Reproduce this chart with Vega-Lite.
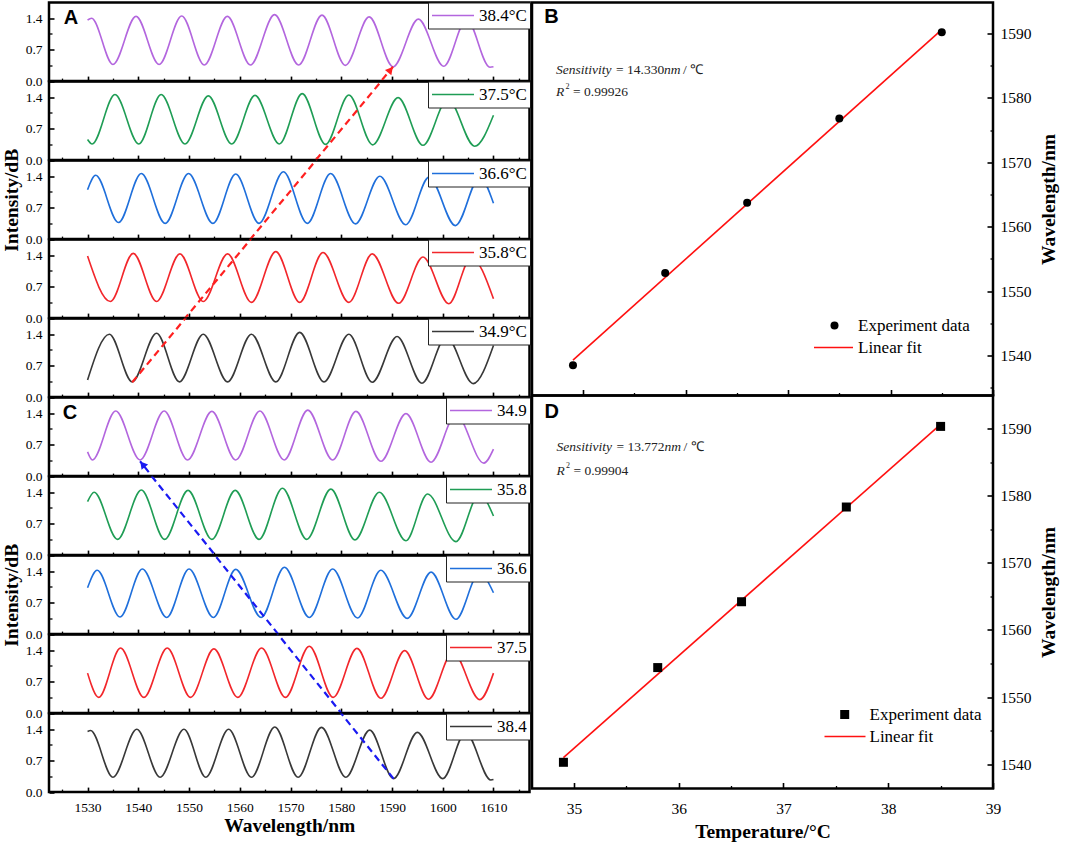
{
"$schema": "https://vega.github.io/schema/vega-lite/v6.json",
"padding": {"left": 0, "top": 0.5, "right": 4, "bottom": 4},
"background": "white",
"config": {
  "view": {"stroke": "black", "strokeWidth": 2.5},
  "axis": {"domain": false, "grid": false, "tickColor": "black", "labelColor": "black", "titleColor": "black", "labelFont": "Liberation Serif", "titleFont": "Liberation Serif", "titleFontWeight": "bold", "labelFlush": false, "labelOverlap": false},
  "legend": {"labelFont": "Liberation Serif", "labelColor": "black", "labelFontSize": 17, "labelLimit": 0},
  "text": {"font": "Liberation Serif"}
},
"datasets": {
  "a1": [{"wl":1530,"v":1.36},{"wl":1530.8,"v":1.40},{"wl":1535.0,"v":0.37},{"wl":1539.55,"v":1.44},{"wl":1544.1,"v":0.37},{"wl":1548.55,"v":1.45},{"wl":1553.0,"v":0.36},{"wl":1557.55,"v":1.44},{"wl":1562.1,"v":0.36},{"wl":1566.85,"v":1.48},{"wl":1571.6,"v":0.36},{"wl":1576.2,"v":1.47},{"wl":1580.8,"v":0.35},{"wl":1585.5,"v":1.43},{"wl":1590.2,"v":0.32},{"wl":1595.2,"v":1.38},{"wl":1600.2,"v":0.33},{"wl":1604.7,"v":1.38},{"wl":1609.3,"v":0.31},{"wl":1610,"v":0.32}],
  "a2": [{"wl":1530,"v":0.46},{"wl":1530.9,"v":0.36},{"wl":1535.4,"v":1.46},{"wl":1540.1,"v":0.36},{"wl":1544.5,"v":1.46},{"wl":1549.2,"v":0.36},{"wl":1553.8,"v":1.43},{"wl":1558.4,"v":0.36},{"wl":1563.0,"v":1.44},{"wl":1567.8,"v":0.36},{"wl":1572.3,"v":1.48},{"wl":1576.9,"v":0.35},{"wl":1581.5,"v":1.45},{"wl":1586.2,"v":0.34},{"wl":1591.2,"v":1.39},{"wl":1596.1,"v":0.33},{"wl":1601.0,"v":1.36},{"wl":1606.3,"v":0.31},{"wl":1610,"v":1.0}],
  "a3": [{"wl":1530,"v":1.10},{"wl":1531.6,"v":1.42},{"wl":1536.1,"v":0.37},{"wl":1540.6,"v":1.46},{"wl":1545.3,"v":0.35},{"wl":1549.9,"v":1.46},{"wl":1554.7,"v":0.35},{"wl":1559.2,"v":1.45},{"wl":1563.8,"v":0.35},{"wl":1568.6,"v":1.50},{"wl":1573.3,"v":0.35},{"wl":1577.9,"v":1.46},{"wl":1582.8,"v":0.34},{"wl":1587.6,"v":1.40},{"wl":1592.7,"v":0.32},{"wl":1597.3,"v":1.38},{"wl":1602.5,"v":0.30},{"wl":1607.3,"v":1.38},{"wl":1610,"v":0.8}],
  "a4": [{"wl":1530,"v":1.38},{"wl":1534.5,"v":0.37},{"wl":1539.0,"v":1.44},{"wl":1543.6,"v":0.37},{"wl":1548.2,"v":1.43},{"wl":1552.8,"v":0.37},{"wl":1557.6,"v":1.43},{"wl":1562.3,"v":0.35},{"wl":1567.1,"v":1.48},{"wl":1571.8,"v":0.35},{"wl":1576.4,"v":1.46},{"wl":1581.5,"v":0.35},{"wl":1586.1,"v":1.43},{"wl":1591.3,"v":0.33},{"wl":1596.1,"v":1.36},{"wl":1601.2,"v":0.32},{"wl":1605.6,"v":1.35},{"wl":1610,"v":0.43}],
  "a5": [{"wl":1530,"v":0.38},{"wl":1534.3,"v":1.40},{"wl":1538.8,"v":0.34},{"wl":1543.6,"v":1.42},{"wl":1548.1,"v":0.34},{"wl":1552.8,"v":1.40},{"wl":1557.6,"v":0.34},{"wl":1562.3,"v":1.40},{"wl":1567.1,"v":0.34},{"wl":1571.8,"v":1.44},{"wl":1576.6,"v":0.34},{"wl":1581.5,"v":1.40},{"wl":1586.1,"v":0.33},{"wl":1591.0,"v":1.35},{"wl":1595.9,"v":0.31},{"wl":1600.7,"v":1.35},{"wl":1606.0,"v":0.30},{"wl":1610,"v":1.15}],
  "c1": [{"wl":1530,"v":0.54},{"wl":1530.95,"v":0.36},{"wl":1535.55,"v":1.45},{"wl":1540.35,"v":0.36},{"wl":1545.1,"v":1.45},{"wl":1549.7,"v":0.36},{"wl":1554.5,"v":1.44},{"wl":1559.2,"v":0.36},{"wl":1563.95,"v":1.45},{"wl":1568.75,"v":0.36},{"wl":1573.4,"v":1.47},{"wl":1578.3,"v":0.36},{"wl":1582.9,"v":1.44},{"wl":1587.8,"v":0.33},{"wl":1592.75,"v":1.39},{"wl":1597.7,"v":0.31},{"wl":1602.6,"v":1.37},{"wl":1608.1,"v":0.29},{"wl":1610,"v":0.6}],
  "c2": [{"wl":1530,"v":1.19},{"wl":1531.3,"v":1.40},{"wl":1535.9,"v":0.35},{"wl":1540.6,"v":1.45},{"wl":1545.2,"v":0.35},{"wl":1549.8,"v":1.44},{"wl":1554.5,"v":0.35},{"wl":1559.1,"v":1.44},{"wl":1563.8,"v":0.35},{"wl":1568.4,"v":1.49},{"wl":1573.2,"v":0.35},{"wl":1577.95,"v":1.47},{"wl":1582.7,"v":0.34},{"wl":1587.5,"v":1.40},{"wl":1592.75,"v":0.32},{"wl":1597.0,"v":1.36},{"wl":1602.6,"v":0.30},{"wl":1607.2,"v":1.36},{"wl":1610,"v":0.87}],
  "c3": [{"wl":1530,"v":1.03},{"wl":1531.9,"v":1.42},{"wl":1536.4,"v":0.38},{"wl":1540.8,"v":1.45},{"wl":1545.6,"v":0.37},{"wl":1550.0,"v":1.45},{"wl":1554.8,"v":0.37},{"wl":1559.2,"v":1.44},{"wl":1564.2,"v":0.37},{"wl":1568.8,"v":1.49},{"wl":1573.7,"v":0.37},{"wl":1578.3,"v":1.45},{"wl":1583.2,"v":0.36},{"wl":1587.8,"v":1.42},{"wl":1593.0,"v":0.35},{"wl":1597.7,"v":1.38},{"wl":1602.6,"v":0.33},{"wl":1607.2,"v":1.36},{"wl":1610,"v":0.92}],
  "c4": [{"wl":1530,"v":0.89},{"wl":1532.2,"v":0.35},{"wl":1536.5,"v":1.45},{"wl":1541.1,"v":0.35},{"wl":1545.7,"v":1.45},{"wl":1550.3,"v":0.35},{"wl":1554.9,"v":1.43},{"wl":1559.6,"v":0.35},{"wl":1564.3,"v":1.45},{"wl":1569.0,"v":0.35},{"wl":1573.7,"v":1.49},{"wl":1578.4,"v":0.35},{"wl":1583.1,"v":1.44},{"wl":1587.8,"v":0.33},{"wl":1592.5,"v":1.39},{"wl":1597.2,"v":0.31},{"wl":1602.0,"v":1.36},{"wl":1607.3,"v":0.30},{"wl":1610,"v":0.89}],
  "c5": [{"wl":1530,"v":1.35},{"wl":1530.6,"v":1.37},{"wl":1535.0,"v":0.33},{"wl":1539.7,"v":1.40},{"wl":1544.3,"v":0.33},{"wl":1549.0,"v":1.40},{"wl":1553.3,"v":0.33},{"wl":1557.8,"v":1.40},{"wl":1562.3,"v":0.33},{"wl":1566.9,"v":1.45},{"wl":1571.5,"v":0.33},{"wl":1576.1,"v":1.44},{"wl":1580.9,"v":0.33},{"wl":1585.6,"v":1.38},{"wl":1590.3,"v":0.30},{"wl":1595.0,"v":1.33},{"wl":1600.0,"v":0.30},{"wl":1604.5,"v":1.33},{"wl":1609.5,"v":0.27},{"wl":1610,"v":0.28}],
  "bpts": [{"t":34.9,"w":1538.5},{"t":35.8,"w":1552.8},{"t":36.6,"w":1563.7},{"t":37.5,"w":1576.8},{"t":38.5,"w":1590.2}],
  "bfit": [{"t":34.9,"w":1539.3},{"t":38.5,"w":1590.6}],
  "dpts": [{"t":34.9,"w":1540.3},{"t":35.8,"w":1554.4},{"t":36.6,"w":1564.2},{"t":37.6,"w":1578.3},{"t":38.5,"w":1590.3}],
  "dfit": [{"t":34.9,"w":1541.0},{"t":38.5,"w":1590.6}]
},
"spacing": -2.5,
"bounds": "full",
"resolve": {"scale": {"color": "independent", "shape": "independent"}, "legend": {"color": "independent", "shape": "independent"}},
"hconcat": [
{
  "spacing": 0,
  "bounds": "flush",
  "resolve": {"scale": {"color": "independent"}, "legend": {"color": "independent"}},
  "vconcat": [
    {"width": 480.5, "height": 78.6,
     "resolve": {"axis": {"x": "independent", "y": "independent"}},
     "layer": [
      {"data": {"name": "a1"}, "mark": {"type": "line", "interpolate": "monotone", "strokeWidth": 1.6},
       "encoding": {
        "x": {"field": "wl", "type": "quantitative", "scale": {"domain": [1522.4, 1617.1], "nice": false, "zero": false}, "axis": {"orient": "bottom", "values": [1530,1540,1550,1560,1570,1580,1590,1600,1610], "tickSize": -5, "tickWidth": 1.6, "labels": false, "title": null}},
        "y": {"field": "v", "type": "quantitative", "scale": {"domain": [0, 1.75], "nice": false, "zero": false}, "axis": {"orient": "left", "values": [0, 0.7, 1.4], "format": ".1f", "tickSize": -5, "tickWidth": 1.6, "labelPadding": 12, "labelFontSize": 13.5, "title": null}},
        "color": {"datum": "38.4°C", "type": "nominal", "scale": {"domain": ["38.4°C"], "range": ["#B366DE"]}, "legend": {"orient": "top-right", "offset": 0, "title": null, "symbolType": "stroke", "symbolSize": 1764, "symbolStrokeWidth": 1.6, "clipHeight": 20, "padding": 3, "strokeColor": "#222", "fillColor": "white", "labelOffset": 4}}
       }},
      {"data": {"values": [{"x1": 1538.8, "y1": -6.67, "x2": 1590.2, "y2": 0.32}]}, "mark": {"type": "rule", "clip": true, "color": "#FF2020", "strokeWidth": 2.2, "strokeDash": [7, 4.5]},
       "encoding": {
        "x": {"field": "x1", "type": "quantitative", "axis": {"orient": "bottom", "values": [1525,1535,1545,1555,1565,1575,1585,1595,1605,1615], "tickSize": -3, "tickWidth": 1.3, "labels": false, "title": null}},
        "x2": {"field": "x2"},
        "y": {"field": "y1", "type": "quantitative", "axis": {"orient": "left", "values": [0.35, 1.05], "tickSize": -3, "tickWidth": 1.3, "labels": false, "title": null}},
        "y2": {"field": "y2"}
       }},
      {"data": {"values": [{}]}, "mark": {"type": "point", "shape": "triangle-up", "filled": true, "color": "#FF2020", "opacity": 1, "size": 70, "angle": 40},
       "encoding": {"x": {"datum": 1589.7, "type": "quantitative", "axis": null}, "y": {"datum": 0.25, "type": "quantitative", "axis": null}}},
      {"data": {"values": [{}]}, "mark": {"type": "text", "text": "A", "font": "Liberation Sans", "fontWeight": "bold", "fontSize": 20, "align": "left", "baseline": "alphabetic", "color": "black"},
       "encoding": {"x": {"datum": 1525.3, "type": "quantitative", "axis": null}, "y": {"datum": 1.28, "type": "quantitative", "axis": null}}}
     ]},
    {"width": 480.5, "height": 78.6,
     "resolve": {"axis": {"x": "independent", "y": "independent"}},
     "layer": [
      {"data": {"name": "a2"}, "mark": {"type": "line", "interpolate": "monotone", "strokeWidth": 1.6},
       "encoding": {
        "x": {"field": "wl", "type": "quantitative", "scale": {"domain": [1522.4, 1617.1], "nice": false, "zero": false}, "axis": {"orient": "bottom", "values": [1530,1540,1550,1560,1570,1580,1590,1600,1610], "tickSize": -5, "tickWidth": 1.6, "labels": false, "title": null}},
        "y": {"field": "v", "type": "quantitative", "scale": {"domain": [0, 1.75], "nice": false, "zero": false}, "axis": {"orient": "left", "values": [0, 0.7, 1.4], "format": ".1f", "tickSize": -5, "tickWidth": 1.6, "labelPadding": 12, "labelFontSize": 13.5, "title": null}},
        "color": {"datum": "37.5°C", "type": "nominal", "scale": {"domain": ["37.5°C"], "range": ["#1F9D55"]}, "legend": {"orient": "top-right", "offset": 0, "title": null, "symbolType": "stroke", "symbolSize": 1764, "symbolStrokeWidth": 1.6, "clipHeight": 20, "padding": 3, "strokeColor": "#222", "fillColor": "white", "labelOffset": 4}}
       }},
      {"data": {"values": [{"x1": 1538.8, "y1": -4.92, "x2": 1590.2, "y2": 2.07}]}, "mark": {"type": "rule", "clip": true, "color": "#FF2020", "strokeWidth": 2.2, "strokeDash": [7, 4.5]},
       "encoding": {
        "x": {"field": "x1", "type": "quantitative", "axis": {"orient": "bottom", "values": [1525,1535,1545,1555,1565,1575,1585,1595,1605,1615], "tickSize": -3, "tickWidth": 1.3, "labels": false, "title": null}},
        "x2": {"field": "x2"},
        "y": {"field": "y1", "type": "quantitative", "axis": {"orient": "left", "values": [0.35, 1.05], "tickSize": -3, "tickWidth": 1.3, "labels": false, "title": null}},
        "y2": {"field": "y2"}
       }}
     ]},
    {"width": 480.5, "height": 78.6,
     "resolve": {"axis": {"x": "independent", "y": "independent"}},
     "layer": [
      {"data": {"name": "a3"}, "mark": {"type": "line", "interpolate": "monotone", "strokeWidth": 1.6},
       "encoding": {
        "x": {"field": "wl", "type": "quantitative", "scale": {"domain": [1522.4, 1617.1], "nice": false, "zero": false}, "axis": {"orient": "bottom", "values": [1530,1540,1550,1560,1570,1580,1590,1600,1610], "tickSize": -5, "tickWidth": 1.6, "labels": false, "title": null}},
        "y": {"field": "v", "type": "quantitative", "scale": {"domain": [0, 1.75], "nice": false, "zero": false}, "axis": {"orient": "left", "values": [0, 0.7, 1.4], "format": ".1f", "tickSize": -5, "tickWidth": 1.6, "labelPadding": 12, "labelFontSize": 13.5, "title": "Intensity/dB", "titleFontSize": 19.5, "titlePadding": 3.5}},
        "color": {"datum": "36.6°C", "type": "nominal", "scale": {"domain": ["36.6°C"], "range": ["#1F6FDB"]}, "legend": {"orient": "top-right", "offset": 0, "title": null, "symbolType": "stroke", "symbolSize": 1764, "symbolStrokeWidth": 1.6, "clipHeight": 20, "padding": 3, "strokeColor": "#222", "fillColor": "white", "labelOffset": 4}}
       }},
      {"data": {"values": [{"x1": 1538.8, "y1": -3.17, "x2": 1590.2, "y2": 3.82}]}, "mark": {"type": "rule", "clip": true, "color": "#FF2020", "strokeWidth": 2.2, "strokeDash": [7, 4.5]},
       "encoding": {
        "x": {"field": "x1", "type": "quantitative", "axis": {"orient": "bottom", "values": [1525,1535,1545,1555,1565,1575,1585,1595,1605,1615], "tickSize": -3, "tickWidth": 1.3, "labels": false, "title": null}},
        "x2": {"field": "x2"},
        "y": {"field": "y1", "type": "quantitative", "axis": {"orient": "left", "values": [0.35, 1.05], "tickSize": -3, "tickWidth": 1.3, "labels": false, "title": null}},
        "y2": {"field": "y2"}
       }}
     ]},
    {"width": 480.5, "height": 78.6,
     "resolve": {"axis": {"x": "independent", "y": "independent"}},
     "layer": [
      {"data": {"name": "a4"}, "mark": {"type": "line", "interpolate": "monotone", "strokeWidth": 1.6},
       "encoding": {
        "x": {"field": "wl", "type": "quantitative", "scale": {"domain": [1522.4, 1617.1], "nice": false, "zero": false}, "axis": {"orient": "bottom", "values": [1530,1540,1550,1560,1570,1580,1590,1600,1610], "tickSize": -5, "tickWidth": 1.6, "labels": false, "title": null}},
        "y": {"field": "v", "type": "quantitative", "scale": {"domain": [0, 1.75], "nice": false, "zero": false}, "axis": {"orient": "left", "values": [0, 0.7, 1.4], "format": ".1f", "tickSize": -5, "tickWidth": 1.6, "labelPadding": 12, "labelFontSize": 13.5, "title": null}},
        "color": {"datum": "35.8°C", "type": "nominal", "scale": {"domain": ["35.8°C"], "range": ["#F2262B"]}, "legend": {"orient": "top-right", "offset": 0, "title": null, "symbolType": "stroke", "symbolSize": 1764, "symbolStrokeWidth": 1.6, "clipHeight": 20, "padding": 3, "strokeColor": "#222", "fillColor": "white", "labelOffset": 4}}
       }},
      {"data": {"values": [{"x1": 1538.8, "y1": -1.42, "x2": 1590.2, "y2": 5.57}]}, "mark": {"type": "rule", "clip": true, "color": "#FF2020", "strokeWidth": 2.2, "strokeDash": [7, 4.5]},
       "encoding": {
        "x": {"field": "x1", "type": "quantitative", "axis": {"orient": "bottom", "values": [1525,1535,1545,1555,1565,1575,1585,1595,1605,1615], "tickSize": -3, "tickWidth": 1.3, "labels": false, "title": null}},
        "x2": {"field": "x2"},
        "y": {"field": "y1", "type": "quantitative", "axis": {"orient": "left", "values": [0.35, 1.05], "tickSize": -3, "tickWidth": 1.3, "labels": false, "title": null}},
        "y2": {"field": "y2"}
       }}
     ]},
    {"width": 480.5, "height": 78.6,
     "resolve": {"axis": {"x": "independent", "y": "independent"}},
     "layer": [
      {"data": {"name": "a5"}, "mark": {"type": "line", "interpolate": "monotone", "strokeWidth": 1.6},
       "encoding": {
        "x": {"field": "wl", "type": "quantitative", "scale": {"domain": [1522.4, 1617.1], "nice": false, "zero": false}, "axis": {"orient": "bottom", "values": [1530,1540,1550,1560,1570,1580,1590,1600,1610], "tickSize": -5, "tickWidth": 1.6, "labels": false, "title": null}},
        "y": {"field": "v", "type": "quantitative", "scale": {"domain": [0, 1.75], "nice": false, "zero": false}, "axis": {"orient": "left", "values": [0, 0.7, 1.4], "format": ".1f", "tickSize": -5, "tickWidth": 1.6, "labelPadding": 12, "labelFontSize": 13.5, "title": null}},
        "color": {"datum": "34.9°C", "type": "nominal", "scale": {"domain": ["34.9°C"], "range": ["#383838"]}, "legend": {"orient": "top-right", "offset": 0, "title": null, "symbolType": "stroke", "symbolSize": 1764, "symbolStrokeWidth": 1.6, "clipHeight": 20, "padding": 3, "strokeColor": "#222", "fillColor": "white", "labelOffset": 4}}
       }},
      {"data": {"values": [{"x1": 1538.8, "y1": 0.33, "x2": 1590.2, "y2": 7.32}]}, "mark": {"type": "rule", "clip": true, "color": "#FF2020", "strokeWidth": 2.2, "strokeDash": [7, 4.5]},
       "encoding": {
        "x": {"field": "x1", "type": "quantitative", "axis": {"orient": "bottom", "values": [1525,1535,1545,1555,1565,1575,1585,1595,1605,1615], "tickSize": -3, "tickWidth": 1.3, "labels": false, "title": null}},
        "x2": {"field": "x2"},
        "y": {"field": "y1", "type": "quantitative", "axis": {"orient": "left", "values": [0.35, 1.05], "tickSize": -3, "tickWidth": 1.3, "labels": false, "title": null}},
        "y2": {"field": "y2"}
       }}
     ]},
    {"width": 480.5, "height": 78.6,
     "resolve": {"axis": {"x": "independent", "y": "independent"}},
     "layer": [
      {"data": {"name": "c1"}, "mark": {"type": "line", "interpolate": "monotone", "strokeWidth": 1.6},
       "encoding": {
        "x": {"field": "wl", "type": "quantitative", "scale": {"domain": [1522.4, 1617.1], "nice": false, "zero": false}, "axis": {"orient": "bottom", "values": [1530,1540,1550,1560,1570,1580,1590,1600,1610], "tickSize": -5, "tickWidth": 1.6, "labels": false, "title": null}},
        "y": {"field": "v", "type": "quantitative", "scale": {"domain": [0, 1.75], "nice": false, "zero": false}, "axis": {"orient": "left", "values": [0, 0.7, 1.4], "format": ".1f", "tickSize": -5, "tickWidth": 1.6, "labelPadding": 12, "labelFontSize": 13.5, "title": null}},
        "color": {"datum": "34.9", "type": "nominal", "scale": {"domain": ["34.9"], "range": ["#B366DE"]}, "legend": {"orient": "top-right", "offset": 0, "title": null, "symbolType": "stroke", "symbolSize": 1764, "symbolStrokeWidth": 1.6, "clipHeight": 20, "padding": 3, "strokeColor": "#222", "fillColor": "white", "labelOffset": 4}}
       }},
      {"data": {"values": [{"x1": 1590.3, "y1": -6.70, "x2": 1540.35, "y2": 0.33}]}, "mark": {"type": "rule", "clip": true, "color": "#1A1AF2", "strokeWidth": 2.2, "strokeDash": [7, 4.5]},
       "encoding": {
        "x": {"field": "x1", "type": "quantitative", "axis": {"orient": "bottom", "values": [1525,1535,1545,1555,1565,1575,1585,1595,1605,1615], "tickSize": -3, "tickWidth": 1.3, "labels": false, "title": null}},
        "x2": {"field": "x2"},
        "y": {"field": "y1", "type": "quantitative", "axis": {"orient": "left", "values": [0.35, 1.05], "tickSize": -3, "tickWidth": 1.3, "labels": false, "title": null}},
        "y2": {"field": "y2"}
       }},
      {"data": {"values": [{}]}, "mark": {"type": "point", "shape": "triangle-up", "filled": true, "color": "#1A1AF2", "opacity": 1, "size": 70, "angle": -39},
       "encoding": {"x": {"datum": 1540.84, "type": "quantitative", "axis": null}, "y": {"datum": 0.26, "type": "quantitative", "axis": null}}},
      {"data": {"values": [{}]}, "mark": {"type": "text", "text": "C", "font": "Liberation Sans", "fontWeight": "bold", "fontSize": 20, "align": "left", "baseline": "alphabetic", "color": "black"},
       "encoding": {"x": {"datum": 1525.1, "type": "quantitative", "axis": null}, "y": {"datum": 1.28, "type": "quantitative", "axis": null}}}
     ]},
    {"width": 480.5, "height": 78.6,
     "resolve": {"axis": {"x": "independent", "y": "independent"}},
     "layer": [
      {"data": {"name": "c2"}, "mark": {"type": "line", "interpolate": "monotone", "strokeWidth": 1.6},
       "encoding": {
        "x": {"field": "wl", "type": "quantitative", "scale": {"domain": [1522.4, 1617.1], "nice": false, "zero": false}, "axis": {"orient": "bottom", "values": [1530,1540,1550,1560,1570,1580,1590,1600,1610], "tickSize": -5, "tickWidth": 1.6, "labels": false, "title": null}},
        "y": {"field": "v", "type": "quantitative", "scale": {"domain": [0, 1.75], "nice": false, "zero": false}, "axis": {"orient": "left", "values": [0, 0.7, 1.4], "format": ".1f", "tickSize": -5, "tickWidth": 1.6, "labelPadding": 12, "labelFontSize": 13.5, "title": null}},
        "color": {"datum": "35.8", "type": "nominal", "scale": {"domain": ["35.8"], "range": ["#1F9D55"]}, "legend": {"orient": "top-right", "offset": 0, "title": null, "symbolType": "stroke", "symbolSize": 1764, "symbolStrokeWidth": 1.6, "clipHeight": 20, "padding": 3, "strokeColor": "#222", "fillColor": "white", "labelOffset": 4}}
       }},
      {"data": {"values": [{"x1": 1590.3, "y1": -4.95, "x2": 1540.35, "y2": 2.08}]}, "mark": {"type": "rule", "clip": true, "color": "#1A1AF2", "strokeWidth": 2.2, "strokeDash": [7, 4.5]},
       "encoding": {
        "x": {"field": "x1", "type": "quantitative", "axis": {"orient": "bottom", "values": [1525,1535,1545,1555,1565,1575,1585,1595,1605,1615], "tickSize": -3, "tickWidth": 1.3, "labels": false, "title": null}},
        "x2": {"field": "x2"},
        "y": {"field": "y1", "type": "quantitative", "axis": {"orient": "left", "values": [0.35, 1.05], "tickSize": -3, "tickWidth": 1.3, "labels": false, "title": null}},
        "y2": {"field": "y2"}
       }}
     ]},
    {"width": 480.5, "height": 78.6,
     "resolve": {"axis": {"x": "independent", "y": "independent"}},
     "layer": [
      {"data": {"name": "c3"}, "mark": {"type": "line", "interpolate": "monotone", "strokeWidth": 1.6},
       "encoding": {
        "x": {"field": "wl", "type": "quantitative", "scale": {"domain": [1522.4, 1617.1], "nice": false, "zero": false}, "axis": {"orient": "bottom", "values": [1530,1540,1550,1560,1570,1580,1590,1600,1610], "tickSize": -5, "tickWidth": 1.6, "labels": false, "title": null}},
        "y": {"field": "v", "type": "quantitative", "scale": {"domain": [0, 1.75], "nice": false, "zero": false}, "axis": {"orient": "left", "values": [0, 0.7, 1.4], "format": ".1f", "tickSize": -5, "tickWidth": 1.6, "labelPadding": 12, "labelFontSize": 13.5, "title": "Intensity/dB", "titleFontSize": 19.5, "titlePadding": 3.5}},
        "color": {"datum": "36.6", "type": "nominal", "scale": {"domain": ["36.6"], "range": ["#1F6FDB"]}, "legend": {"orient": "top-right", "offset": 0, "title": null, "symbolType": "stroke", "symbolSize": 1764, "symbolStrokeWidth": 1.6, "clipHeight": 20, "padding": 3, "strokeColor": "#222", "fillColor": "white", "labelOffset": 4}}
       }},
      {"data": {"values": [{"x1": 1590.3, "y1": -3.20, "x2": 1540.35, "y2": 3.83}]}, "mark": {"type": "rule", "clip": true, "color": "#1A1AF2", "strokeWidth": 2.2, "strokeDash": [7, 4.5]},
       "encoding": {
        "x": {"field": "x1", "type": "quantitative", "axis": {"orient": "bottom", "values": [1525,1535,1545,1555,1565,1575,1585,1595,1605,1615], "tickSize": -3, "tickWidth": 1.3, "labels": false, "title": null}},
        "x2": {"field": "x2"},
        "y": {"field": "y1", "type": "quantitative", "axis": {"orient": "left", "values": [0.35, 1.05], "tickSize": -3, "tickWidth": 1.3, "labels": false, "title": null}},
        "y2": {"field": "y2"}
       }}
     ]},
    {"width": 480.5, "height": 78.6,
     "resolve": {"axis": {"x": "independent", "y": "independent"}},
     "layer": [
      {"data": {"name": "c4"}, "mark": {"type": "line", "interpolate": "monotone", "strokeWidth": 1.6},
       "encoding": {
        "x": {"field": "wl", "type": "quantitative", "scale": {"domain": [1522.4, 1617.1], "nice": false, "zero": false}, "axis": {"orient": "bottom", "values": [1530,1540,1550,1560,1570,1580,1590,1600,1610], "tickSize": -5, "tickWidth": 1.6, "labels": false, "title": null}},
        "y": {"field": "v", "type": "quantitative", "scale": {"domain": [0, 1.75], "nice": false, "zero": false}, "axis": {"orient": "left", "values": [0, 0.7, 1.4], "format": ".1f", "tickSize": -5, "tickWidth": 1.6, "labelPadding": 12, "labelFontSize": 13.5, "title": null}},
        "color": {"datum": "37.5", "type": "nominal", "scale": {"domain": ["37.5"], "range": ["#F2262B"]}, "legend": {"orient": "top-right", "offset": 0, "title": null, "symbolType": "stroke", "symbolSize": 1764, "symbolStrokeWidth": 1.6, "clipHeight": 20, "padding": 3, "strokeColor": "#222", "fillColor": "white", "labelOffset": 4}}
       }},
      {"data": {"values": [{"x1": 1590.3, "y1": -1.45, "x2": 1540.35, "y2": 5.58}]}, "mark": {"type": "rule", "clip": true, "color": "#1A1AF2", "strokeWidth": 2.2, "strokeDash": [7, 4.5]},
       "encoding": {
        "x": {"field": "x1", "type": "quantitative", "axis": {"orient": "bottom", "values": [1525,1535,1545,1555,1565,1575,1585,1595,1605,1615], "tickSize": -3, "tickWidth": 1.3, "labels": false, "title": null}},
        "x2": {"field": "x2"},
        "y": {"field": "y1", "type": "quantitative", "axis": {"orient": "left", "values": [0.35, 1.05], "tickSize": -3, "tickWidth": 1.3, "labels": false, "title": null}},
        "y2": {"field": "y2"}
       }}
     ]},
    {"width": 480.5, "height": 78.6,
     "resolve": {"axis": {"x": "independent", "y": "independent"}},
     "layer": [
      {"data": {"name": "c5"}, "mark": {"type": "line", "interpolate": "monotone", "strokeWidth": 1.6},
       "encoding": {
        "x": {"field": "wl", "type": "quantitative", "scale": {"domain": [1522.4, 1617.1], "nice": false, "zero": false}, "axis": {"orient": "bottom", "values": [1530,1540,1550,1560,1570,1580,1590,1600,1610], "format": "d", "tickSize": -5, "tickWidth": 1.6, "labelPadding": 13, "labelFontSize": 13.5, "title": "Wavelength/nm", "titleFontSize": 19.5, "titlePadding": 3}},
        "y": {"field": "v", "type": "quantitative", "scale": {"domain": [0, 1.75], "nice": false, "zero": false}, "axis": {"orient": "left", "values": [0, 0.7, 1.4], "format": ".1f", "tickSize": -5, "tickWidth": 1.6, "labelPadding": 12, "labelFontSize": 13.5, "title": null}},
        "color": {"datum": "38.4", "type": "nominal", "scale": {"domain": ["38.4"], "range": ["#383838"]}, "legend": {"orient": "top-right", "offset": 0, "title": null, "symbolType": "stroke", "symbolSize": 1764, "symbolStrokeWidth": 1.6, "clipHeight": 20, "padding": 3, "strokeColor": "#222", "fillColor": "white", "labelOffset": 4}}
       }},
      {"data": {"values": [{"x1": 1590.3, "y1": 0.30, "x2": 1540.35, "y2": 7.33}]}, "mark": {"type": "rule", "clip": true, "color": "#1A1AF2", "strokeWidth": 2.2, "strokeDash": [7, 4.5]},
       "encoding": {
        "x": {"field": "x1", "type": "quantitative", "axis": {"orient": "bottom", "values": [1525,1535,1545,1555,1565,1575,1585,1595,1605,1615], "tickSize": -3, "tickWidth": 1.3, "labels": false, "title": null}},
        "x2": {"field": "x2"},
        "y": {"field": "y1", "type": "quantitative", "axis": {"orient": "left", "values": [0.35, 1.05], "tickSize": -3, "tickWidth": 1.3, "labels": false, "title": null}},
        "y2": {"field": "y2"}
       }}
     ]}
  ]
},
{
  "spacing": 0,
  "bounds": "flush",
  "resolve": {"scale": {"color": "independent", "shape": "independent"}, "legend": {"color": "independent", "shape": "independent"}},
  "vconcat": [
    {"width": 461, "height": 393,
     "data": {"values": [{}]},
     "resolve": {"axis": {"x": "independent", "y": "independent"}},
     "layer": [
      {"data": {"name": "bfit"}, "mark": {"type": "line", "color": "#FF1010", "strokeWidth": 1.6},
       "encoding": {
        "x": {"field": "t", "type": "quantitative", "scale": {"domain": [34.5, 39], "nice": false, "zero": false}, "axis": {"orient": "bottom", "values": [35, 36, 37, 38, 39], "tickSize": -6, "tickWidth": 1.6, "labels": false, "title": null}},
        "y": {"field": "w", "type": "quantitative", "scale": {"domain": [1533.8, 1594.8], "nice": false, "zero": false}, "axis": {"orient": "right", "values": [1540, 1550, 1560, 1570, 1580, 1590], "format": "d", "tickSize": -6, "tickWidth": 1.6, "labelPadding": 13, "labelFontSize": 15.5, "title": "Wavelength/nm", "titleFontSize": 19.5, "titleAngle": 270, "titleBaseline": "top", "titlePadding": 8}},
        "color": {"datum": "Linear fit", "type": "nominal", "scale": {"domain": ["Linear fit"], "range": ["#FF1010"]}, "legend": {"orient": "none", "legendX": 281, "legendY": 336.5, "title": null, "symbolType": "stroke", "symbolSize": 1521, "symbolStrokeWidth": 1.6, "clipHeight": 17, "labelOffset": 4, "padding": 0}}
       }},
      {"data": {"name": "bpts"}, "mark": {"type": "point", "filled": true, "color": "black", "opacity": 1, "size": 64},
       "encoding": {
        "x": {"field": "t", "type": "quantitative", "axis": {"orient": "bottom", "values": [35.5, 36.5, 37.5, 38.5], "tickSize": -3, "tickWidth": 1.3, "labels": false, "title": null}},
        "y": {"field": "w", "type": "quantitative", "axis": {"orient": "right", "values": [1535, 1545, 1555, 1565, 1575, 1585], "tickSize": -3, "tickWidth": 1.3, "labels": false, "title": null}},
        "shape": {"datum": "Experiment data", "type": "nominal", "scale": {"domain": ["Experiment data"], "range": ["circle"]}, "legend": {"orient": "none", "legendX": 294, "legendY": 314.5, "title": null, "symbolFillColor": "black", "symbolStrokeColor": "black", "symbolSize": 64, "labelOffset": 15, "padding": 0}}
       }},
      {"mark": {"type": "text", "text": "B", "font": "Liberation Sans", "fontWeight": "bold", "fontSize": 20, "align": "left", "baseline": "alphabetic", "color": "black"},
       "encoding": {"x": {"datum": 34.62, "type": "quantitative", "axis": null}, "y": {"datum": 1591.6, "type": "quantitative", "axis": null}}},
      {"mark": {"type": "text", "text": "Sensitivity", "fontStyle": "italic", "fontSize": 13.5, "align": "left", "baseline": "middle", "color": "#222"},
       "encoding": {"x": {"datum": 34.735, "type": "quantitative", "axis": null}, "y": {"datum": 1584.4, "type": "quantitative", "axis": null}}},
      {"mark": {"type": "text", "text": "= 14.330", "fontSize": 13.5, "align": "left", "baseline": "middle", "dx": 60, "color": "#222"},
       "encoding": {"x": {"datum": 34.735, "type": "quantitative", "axis": null}, "y": {"datum": 1584.4, "type": "quantitative", "axis": null}}},
      {"mark": {"type": "text", "text": "nm", "fontStyle": "italic", "fontSize": 13.5, "align": "left", "baseline": "middle", "dx": 108, "color": "#222"},
       "encoding": {"x": {"datum": 34.735, "type": "quantitative", "axis": null}, "y": {"datum": 1584.4, "type": "quantitative", "axis": null}}},
      {"mark": {"type": "text", "text": "/ ℃", "fontSize": 13.5, "align": "left", "baseline": "middle", "dx": 127, "color": "#222"},
       "encoding": {"x": {"datum": 34.735, "type": "quantitative", "axis": null}, "y": {"datum": 1584.4, "type": "quantitative", "axis": null}}},
      {"mark": {"type": "text", "text": "R", "fontStyle": "italic", "fontSize": 13.5, "align": "left", "baseline": "middle", "color": "#222"},
       "encoding": {"x": {"datum": 34.735, "type": "quantitative", "axis": null}, "y": {"datum": 1580.9, "type": "quantitative", "axis": null}}},
      {"mark": {"type": "text", "text": "2", "fontSize": 8, "align": "left", "baseline": "middle", "dx": 9.5, "dy": -5, "color": "#222"},
       "encoding": {"x": {"datum": 34.735, "type": "quantitative", "axis": null}, "y": {"datum": 1580.9, "type": "quantitative", "axis": null}}},
      {"mark": {"type": "text", "text": "= 0.99926", "fontSize": 13.5, "align": "left", "baseline": "middle", "dx": 17, "color": "#222"},
       "encoding": {"x": {"datum": 34.735, "type": "quantitative", "axis": null}, "y": {"datum": 1580.9, "type": "quantitative", "axis": null}}}
     ]},
    {"width": 461, "height": 393,
     "data": {"values": [{}]},
     "resolve": {"axis": {"x": "independent", "y": "independent"}},
     "layer": [
      {"data": {"name": "dfit"}, "mark": {"type": "line", "color": "#FF1010", "strokeWidth": 1.6},
       "encoding": {
        "x": {"field": "t", "type": "quantitative", "scale": {"domain": [34.6, 39], "nice": false, "zero": false}, "axis": {"orient": "bottom", "values": [35, 36, 37, 38, 39], "tickSize": -6, "tickWidth": 1.6, "labelPadding": 19, "labelFontSize": 15.5, "title": "Temperature/°C", "titleFontSize": 19.5, "titlePadding": 5}},
        "y": {"field": "w", "type": "quantitative", "scale": {"domain": [1536.4, 1594.9], "nice": false, "zero": false}, "axis": {"orient": "right", "values": [1540, 1550, 1560, 1570, 1580, 1590], "format": "d", "tickSize": -6, "tickWidth": 1.6, "labelPadding": 13, "labelFontSize": 15.5, "title": "Wavelength/nm", "titleFontSize": 19.5, "titleAngle": 270, "titleBaseline": "top", "titlePadding": 8}},
        "color": {"datum": "Linear fit", "type": "nominal", "scale": {"domain": ["Linear fit"], "range": ["#FF1010"]}, "legend": {"orient": "none", "legendX": 291.5, "legendY": 332.5, "title": null, "symbolType": "stroke", "symbolSize": 1681, "symbolStrokeWidth": 1.6, "clipHeight": 17, "labelOffset": 3, "padding": 0}}
       }},
      {"data": {"name": "dpts"}, "mark": {"type": "point", "shape": "square", "filled": true, "color": "black", "opacity": 1, "size": 81},
       "encoding": {
        "x": {"field": "t", "type": "quantitative", "axis": {"orient": "bottom", "values": [35.5, 36.5, 37.5, 38.5], "tickSize": -3, "tickWidth": 1.3, "labels": false, "title": null}},
        "y": {"field": "w", "type": "quantitative", "axis": {"orient": "right", "values": [1545, 1555, 1565, 1575, 1585], "tickSize": -3, "tickWidth": 1.3, "labels": false, "title": null}},
        "shape": {"datum": "Experiment data", "type": "nominal", "scale": {"domain": ["Experiment data"], "range": ["square"]}, "legend": {"orient": "none", "legendX": 304.2, "legendY": 310.5, "title": null, "symbolFillColor": "black", "symbolStrokeColor": "black", "symbolSize": 81, "labelOffset": 16.4, "padding": 0}}
       }},
      {"mark": {"type": "text", "text": "D", "font": "Liberation Sans", "fontWeight": "bold", "fontSize": 20, "align": "left", "baseline": "alphabetic", "color": "black"},
       "encoding": {"x": {"datum": 34.72, "type": "quantitative", "axis": null}, "y": {"datum": 1591.55, "type": "quantitative", "axis": null}}},
      {"mark": {"type": "text", "text": "Sensitivity", "fontStyle": "italic", "fontSize": 13.5, "align": "left", "baseline": "middle", "color": "#222"},
       "encoding": {"x": {"datum": 34.833, "type": "quantitative", "axis": null}, "y": {"datum": 1587.16, "type": "quantitative", "axis": null}}},
      {"mark": {"type": "text", "text": "= 13.772", "fontSize": 13.5, "align": "left", "baseline": "middle", "dx": 60, "color": "#222"},
       "encoding": {"x": {"datum": 34.833, "type": "quantitative", "axis": null}, "y": {"datum": 1587.16, "type": "quantitative", "axis": null}}},
      {"mark": {"type": "text", "text": "nm", "fontStyle": "italic", "fontSize": 13.5, "align": "left", "baseline": "middle", "dx": 108, "color": "#222"},
       "encoding": {"x": {"datum": 34.833, "type": "quantitative", "axis": null}, "y": {"datum": 1587.16, "type": "quantitative", "axis": null}}},
      {"mark": {"type": "text", "text": "/ ℃", "fontSize": 13.5, "align": "left", "baseline": "middle", "dx": 127, "color": "#222"},
       "encoding": {"x": {"datum": 34.833, "type": "quantitative", "axis": null}, "y": {"datum": 1587.16, "type": "quantitative", "axis": null}}},
      {"mark": {"type": "text", "text": "R", "fontStyle": "italic", "fontSize": 13.5, "align": "left", "baseline": "middle", "color": "#222"},
       "encoding": {"x": {"datum": 34.833, "type": "quantitative", "axis": null}, "y": {"datum": 1583.7, "type": "quantitative", "axis": null}}},
      {"mark": {"type": "text", "text": "2", "fontSize": 8, "align": "left", "baseline": "middle", "dx": 9.5, "dy": -5, "color": "#222"},
       "encoding": {"x": {"datum": 34.833, "type": "quantitative", "axis": null}, "y": {"datum": 1583.7, "type": "quantitative", "axis": null}}},
      {"mark": {"type": "text", "text": "= 0.99904", "fontSize": 13.5, "align": "left", "baseline": "middle", "dx": 17, "color": "#222"},
       "encoding": {"x": {"datum": 34.833, "type": "quantitative", "axis": null}, "y": {"datum": 1583.7, "type": "quantitative", "axis": null}}}
     ]}
  ]
}
]
}
